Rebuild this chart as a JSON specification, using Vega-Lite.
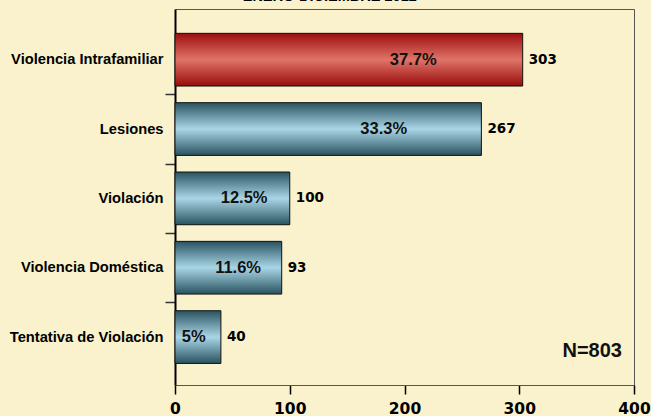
{
  "$schema": "https://vega.github.io/schema/vega-lite/v6.json",
  "width": 459,
  "height": 376,
  "autosize": {"type": "none"},
  "padding": {"left": 175, "top": 9, "right": 17, "bottom": 31},
  "background": "#FAF2CC",
  "title": {
    "text": "ENERO-DICIEMBRE 2012",
    "font": "Liberation Sans",
    "fontSize": 14.5,
    "fontWeight": "bold",
    "color": "#000",
    "anchor": "middle",
    "frame": "bounds",
    "baseline": "alphabetic",
    "offset": 2,
    "dy": 8
  },
  "config": {
    "view": {"stroke": "#555", "strokeWidth": 1},
    "axis": {"grid": false}
  },
  "data": {
    "values": [
      {"tipo": "Violencia Intrafamiliar", "count": 303, "pct": 0.377},
      {"tipo": "Lesiones", "count": 267, "pct": 0.333},
      {"tipo": "Violación", "count": 100, "pct": 0.125},
      {"tipo": "Violencia Doméstica", "count": 93, "pct": 0.116},
      {"tipo": "Tentativa de Violación", "count": 40, "pct": 0.05}
    ]
  },
  "encoding": {
    "y": {
      "field": "tipo",
      "type": "nominal",
      "sort": null,
      "scale": {"paddingInner": 0.24, "paddingOuter": 0.331, "align": 0.53},
      "axis": {
        "title": null,
        "labelFont": "Liberation Sans",
        "labelFontWeight": "bold",
        "labelFontSize": 14.7,
        "labelColor": "#000",
        "labelPadding": 2,
        "tickSize": 10,
        "tickColor": "#333",
        "tickWidth": 1.5,
        "tickOffset": 34.7,
        "labelOffset": -34.7,
        "tickOpacity": {"condition": {"test": "datum.value === 'Tentativa de Violación'", "value": 0}, "value": 1},
        "domainColor": "#000",
        "domainWidth": 2
      }
    }
  },
  "layer": [
    {
      "mark": {"type": "bar", "stroke": "#111", "strokeWidth": 1},
      "encoding": {
        "x": {
          "field": "count",
          "type": "quantitative",
          "scale": {"domain": [0, 400], "nice": false},
          "axis": {
            "values": [0, 100, 200, 300, 400],
            "title": null,
            "labelFont": "DejaVu Sans",
            "labelFontWeight": "bold",
            "labelFontSize": 15.5,
            "labelColor": "#000",
            "tickSize": 9,
            "tickColor": "#000",
            "tickWidth": 1.5,
            "domainColor": "#555",
            "domainWidth": 1,
            "labelPadding": 7,
            "labelFlush": false,
            "labelOverlap": false
          }
        },
        "fill": {
          "condition": {
            "test": "datum.tipo === 'Violencia Intrafamiliar'",
            "value": {
              "gradient": "linear", "x1": 0, "y1": 0, "x2": 0, "y2": 1,
              "stops": [
                {"offset": 0, "color": "#9C0E0F"},
                {"offset": 0.5, "color": "#E07468"},
                {"offset": 1, "color": "#980C0C"}
              ]
            }
          },
          "value": {
            "gradient": "linear", "x1": 0, "y1": 0, "x2": 0, "y2": 1,
            "stops": [
              {"offset": 0, "color": "#2A5361"},
              {"offset": 0.5, "color": "#A9D6E7"},
              {"offset": 1, "color": "#29525F"}
            ]
          }
        }
      }
    },
    {
      "mark": {"type": "text", "align": "left", "baseline": "middle", "dx": 6, "font": "DejaVu Sans", "fontWeight": "bold", "fontSize": 13.5, "color": "#000"},
      "encoding": {
        "x": {"field": "count", "type": "quantitative", "scale": {"domain": [0, 400], "nice": false}, "axis": null},
        "text": {"field": "count", "type": "quantitative"}
      }
    },
    {
      "mark": {"type": "text", "align": "center", "baseline": "middle", "font": "Liberation Sans", "fontWeight": "bold", "fontSize": 16.5, "color": "#111"},
      "encoding": {
        "x": {"field": "pct", "type": "quantitative", "scale": {"domain": [0.022, 0.706], "zero": false, "nice": false}, "axis": null},
        "text": {"field": "pct", "type": "quantitative", "format": ".1~%"}
      }
    },
    {
      "data": {"values": [{"n": "N=803"}]},
      "mark": {"type": "text", "align": "right", "baseline": "middle", "dy": 14, "font": "Liberation Sans", "fontWeight": "bold", "fontSize": 20, "color": "#111"},
      "encoding": {
        "x": {"datum": 389.5, "type": "quantitative", "scale": {"domain": [0, 400], "nice": false}, "axis": null},
        "y": {"datum": "Tentativa de Violación", "type": "nominal"},
        "text": {"field": "n", "type": "nominal"}
      }
    }
  ],
  "resolve": {"scale": {"x": "independent"}}
}
